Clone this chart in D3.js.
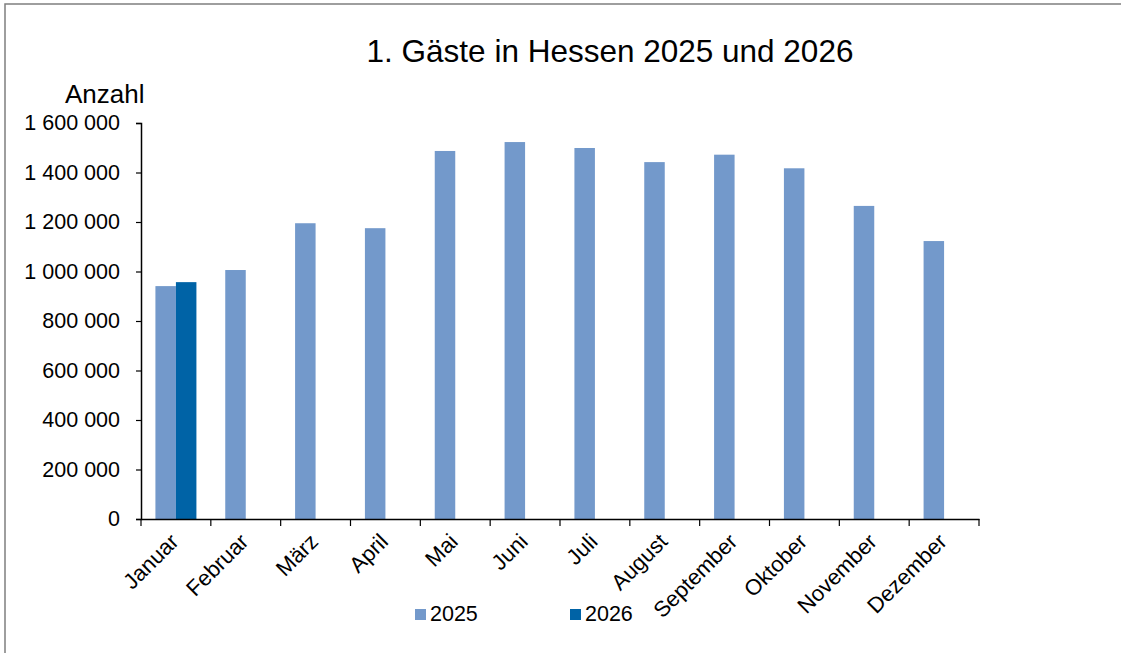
<!DOCTYPE html>
<html>
<head>
<meta charset="utf-8">
<script src="https://cdn.jsdelivr.net/npm/d3@7"></script>
<style>
  html, body { margin: 0; padding: 0; background: #fff; }
  svg { display: block; font-family: "Liberation Sans", Arial, sans-serif; }
</style>
</head>
<body>
<svg id="chart" width="1121" height="653"></svg>
<script>
const categories = ["Januar","Februar","März","April","Mai","Juni","Juli","August","September","Oktober","November","Dezember"];
const series = ["2025","2026"];
const values2025 = [941000,1006000,1195000,1175000,1487000,1523000,1499000,1442000,1472000,1417000,1265000,1123000];
const values2026 = [957000,null,null,null,null,null,null,null,null,null,null,null];
const yTicks = [0,200000,400000,600000,800000,1000000,1200000,1400000,1600000];
const colors = ["#7399cb","#0063a6"];
const titleText = "1. Gäste in Hessen 2025 und 2026";
const yLabel = "Anzahl";

(function(){
const svg = d3.select("#chart");
const mLeft = 141, mRight = 979, mTop = 123, mBottom = 519;

// frame
svg.append("rect").attr("x",5).attr("y",4).attr("width",1130).attr("height",660)
  .attr("fill","none").attr("stroke","#7f7f7f").attr("stroke-width",1.5);

const x = d3.scaleBand().domain(categories).range([mLeft,mRight]).padding(0);
const bw = 20.5;
const xs = d3.scaleBand().domain(series).range([0, bw*2]);
const y = d3.scaleLinear().domain([0,1600000]).range([mBottom,mTop]);

const fmt = v => d3.format(",")(v).replace(/,/g," ");

const data = [];
categories.forEach((c,i)=>{
  [values2025[i], values2026[i]].forEach((v,j)=>{
    if (v != null) data.push({c, s: series[j], v, j});
  });
});

svg.append("g").selectAll("rect").data(data).enter().append("rect")
  .attr("x", d => x(d.c) + x.bandwidth()/2 - bw + xs(d.s))
  .attr("y", d => y(d.v))
  .attr("width", xs.bandwidth())
  .attr("height", d => mBottom - y(d.v))
  .attr("fill", d => colors[d.j]);

// Y axis
const yAxis = svg.append("g").attr("transform",`translate(${mLeft},0)`)
  .call(d3.axisLeft(y).tickValues(yTicks).tickFormat(fmt).tickSize(5).tickPadding(16));
yAxis.select(".domain").attr("stroke","#000").attr("stroke-width",1.5);
yAxis.selectAll(".tick line").attr("stroke","#000").attr("stroke-width",1.2);
yAxis.selectAll("text").attr("font-size",21.5).attr("fill","#000").attr("font-family","Liberation Sans, Arial, sans-serif");

// X axis
const xAxis = svg.append("g").attr("transform",`translate(0,${mBottom})`)
  .call(d3.axisBottom(x).tickSize(0).tickFormat(""));
xAxis.select(".domain").attr("stroke","#000").attr("stroke-width",1.5);
const bounds = categories.map(c => x(c)).concat([mRight]);
xAxis.selectAll(".bline").data(bounds).enter().append("line")
  .attr("x1",d=>d).attr("x2",d=>d).attr("y1",0).attr("y2",7)
  .attr("stroke","#000").attr("stroke-width",1.2);

svg.append("g").selectAll("text").data(categories).enter().append("text")
  .attr("transform", d => `translate(${x(d)+x.bandwidth()/2+4},${mBottom+24}) rotate(-45)`)
  .attr("text-anchor","end")
  .attr("font-size",22)
  .attr("fill","#000")
  .text(d=>d);

// title
svg.append("text").attr("x",610).attr("y",62).attr("text-anchor","middle")
  .attr("font-size",31.5).attr("fill","#000").text(titleText);
svg.append("text").attr("x",65).attr("y",103).attr("font-size",26).attr("fill","#000").text(yLabel);

// legend
const legX = [415, 570];
series.forEach((s,i)=>{
  svg.append("rect").attr("x",legX[i]).attr("y",609).attr("width",11).attr("height",11).attr("fill",colors[i]);
  svg.append("text").attr("x",legX[i]+15).attr("y",621).attr("font-size",21.5).attr("fill","#000").text(s);
});
})();
</script>
</body>
</html>
